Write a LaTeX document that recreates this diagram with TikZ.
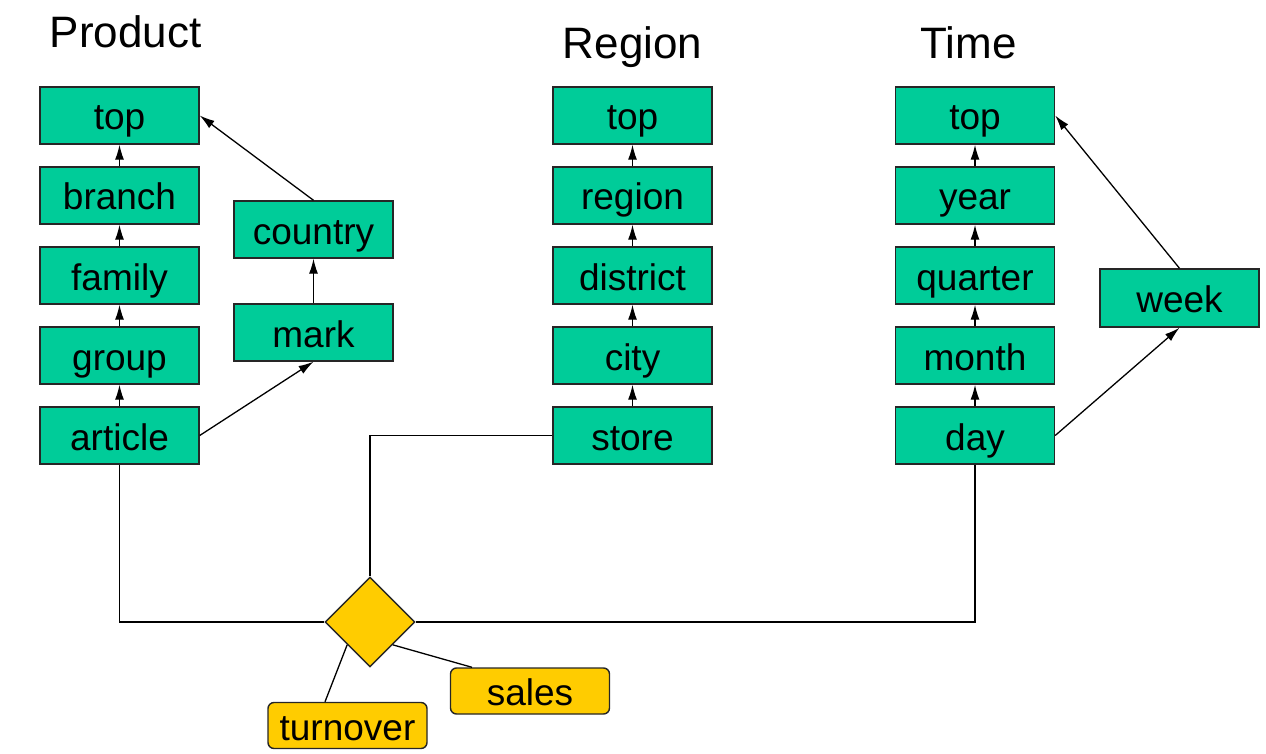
\documentclass[tikz,border=0pt]{standalone}
\usepackage{fontspec}
\setmainfont{Liberation Sans}
\usetikzlibrary{arrows.meta,shapes.geometric}
\definecolor{boxgreen}{RGB}{0,204,153}
\definecolor{boxyellow}{RGB}{255,204,0}
\begin{document}
\begin{tikzpicture}[x=1pt,y=-1pt,
  lvl/.style={draw=black!85,line width=1.4pt,fill=boxgreen,minimum width=159pt,minimum height=57pt,inner sep=0pt,
    font=\fontsize{37}{40}\selectfont,text height=29pt,text depth=0pt},
  meas/.style={draw=black!85,line width=1.4pt,fill=boxyellow,rounded corners=6pt,minimum width=159pt,minimum height=46pt,inner sep=0pt,
    font=\fontsize{37}{40}\selectfont,text height=29pt,text depth=0pt},
  title/.style={font=\fontsize{44}{48}\selectfont,anchor=base},
  arr/.style={line width=1.3pt,-{Latex[length=15pt,width=9pt]}},
  ln/.style={line width=1.3pt}]
\useasboundingbox (0,0) rectangle (1266,754);
% titles
\node[title] (tp) at (125.5,48) {Product};
\node[title] (tr) at (632.5,59) {Region};
\node[title] (tt) at (968.5,59) {Time};
% Product
\node[lvl] (ptop) at (119.5,115.5) {top};
\node[lvl] (branch) at (119.5,195.5) {branch};
\node[lvl] (family) at (119.5,275.5) {family};
\node[lvl] (group) at (119.5,355.5) {group};
\node[lvl] (article) at (119.5,435.5) {article};
\node[lvl] (country) at (313.5,229.5) {country};
\node[lvl] (mark) at (313.5,332.5) {mark};
% Region
\node[lvl] (rtop) at (632.5,115.5) {top};
\node[lvl] (region) at (632.5,195.5) {region};
\node[lvl] (district) at (632.5,275.5) {district};
\node[lvl] (city) at (632.5,355.5) {city};
\node[lvl] (store) at (632.5,435.5) {store};
% Time
\node[lvl] (ttop) at (975,115.5) {top};
\node[lvl] (year) at (975,195.5) {year};
\node[lvl] (quarter) at (975,275.5) {quarter};
\node[lvl] (month) at (975,355.5) {month};
\node[lvl] (day) at (975,435.5) {day};
\node[lvl,minimum height=58pt] (week) at (1179.5,298) {week};
% fact
\node[diamond,draw=black!85,line width=1.4pt,fill=boxyellow,minimum width=90pt,minimum height=90pt,inner sep=0pt] (fact) at (370,622) {};
\node[meas] (turnover) at (347.5,725.5) {turnover};
\node[meas] (sales) at (530,691) {sales};
% hierarchy arrows
\draw[arr] (branch) -- (ptop);
\draw[arr] (family) -- (branch);
\draw[arr] (group) -- (family);
\draw[arr] (article) -- (group);
\draw[arr] (mark) -- (country);
\draw[arr] (article.east) -- (mark.south);
\draw[arr] (country.north) -- (ptop.east);
\draw[arr] (region) -- (rtop);
\draw[arr] (district) -- (region);
\draw[arr] (city) -- (district);
\draw[arr] (store) -- (city);
\draw[arr] (year) -- (ttop);
\draw[arr] (quarter) -- (year);
\draw[arr] (month) -- (quarter);
\draw[arr] (day) -- (month);
\draw[arr] (day.east) -- (week.south);
\draw[arr] (week.north) -- (ttop.east);
% fact connections
\draw[ln] (article.south) |- (fact.west);
\draw[ln] (store.west) -| (fact.north);
\draw[ln] (day.south) |- (fact.east);
\draw[ln] (fact.south west) -- (turnover.north -| 325,0);
\draw[ln] (fact.south east) -- (sales.north -| 472,0);
\end{tikzpicture}
\end{document}
